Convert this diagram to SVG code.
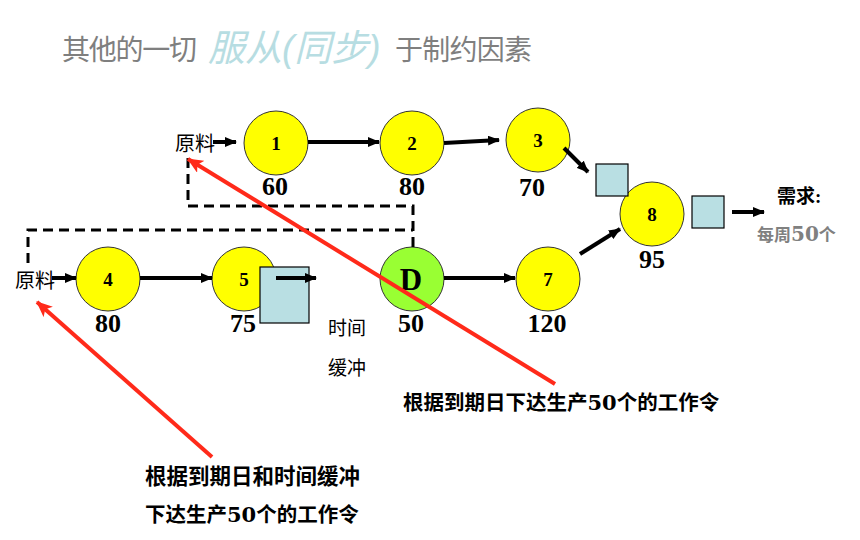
<svg xmlns="http://www.w3.org/2000/svg" width="860" height="540" viewBox="0 0 860 540">
<defs>
<marker id="ah" viewBox="0 0 12 10" refX="11" refY="5" markerWidth="12" markerHeight="10" markerUnits="userSpaceOnUse" orient="auto"><path d="M0,0 L12,5 L0,10 Z" fill="#000"/></marker>
<marker id="rh" viewBox="0 0 16 14" refX="15" refY="7" markerWidth="16" markerHeight="14" markerUnits="userSpaceOnUse" orient="auto"><path d="M0,0 L16,7 L0,14 L4,7 Z" fill="#ff2a1a"/></marker>
<style>
.c{fill:#ffff00;stroke:#333;stroke-width:1}
.g{fill:#99ff33;stroke:#333;stroke-width:1}
.b{fill:#b9dfe3;stroke:#000;stroke-width:1.2}
.n{font-family:"Liberation Serif",serif;font-weight:bold;font-size:19px;text-anchor:middle;fill:#000}
.v{font-family:"Liberation Serif",serif;font-weight:bold;font-size:26px;text-anchor:middle;fill:#000}
.cj{font-family:"Liberation Serif","Noto Sans CJK SC",serif;font-size:20px;fill:#000}
.bd{font-family:"Liberation Serif","Noto Sans CJK SC",serif;font-size:20.5px;font-weight:bold;fill:#000}
.dg{font-family:"DejaVu Serif",serif;font-size:21px}
.t{font-family:"Liberation Sans","Noto Sans CJK SC",sans-serif;font-size:28px;fill:#7f7f7f}
.ti{font-family:"Liberation Sans","Noto Sans CJK SC",sans-serif;font-size:37px;font-style:italic;fill:#b7dde2}
.a{stroke:#000;stroke-width:4;fill:none;marker-end:url(#ah)}
.d{stroke:#000;stroke-width:3;fill:none;stroke-dasharray:10 6}
.r{stroke:#ff2a1a;stroke-width:4;fill:none;marker-end:url(#rh)}
</style>
</defs>
<g id="title">
<text class="t" x="62" y="60" textLength="135">其他的一切</text>
<text class="ti" x="208" y="61">服从(同步)</text>
<text class="t" x="395" y="60" textLength="137">于制约因素</text>
</g>
<g id="n1"><circle class="c" cx="276" cy="143" r="32"/><text class="n" x="276" y="150">1</text><text class="v" x="275" y="195">60</text></g>
<g id="n2"><circle class="c" cx="412" cy="143" r="32"/><text class="n" x="412" y="150">2</text><text class="v" x="412" y="195">80</text></g>
<g id="n3"><circle class="c" cx="538" cy="140" r="32"/><text class="n" x="538" y="147">3</text><text class="v" x="532" y="196">70</text></g>
<g id="n8"><circle class="c" cx="652" cy="214" r="32"/><text class="n" x="652" y="221">8</text><text class="v" x="652" y="268">95</text></g>
<g id="n4"><circle class="c" cx="108" cy="279" r="32"/><text class="n" x="108" y="286">4</text><text class="v" x="108" y="332">80</text></g>
<g id="n5"><circle class="c" cx="244" cy="279" r="32"/><text class="n" x="244" y="286">5</text><text class="v" x="243" y="332">75</text></g>
<g id="nD"><circle class="g" cx="412" cy="279" r="32"/><text class="n" x="411" y="290" style="font-size:31px">D</text><text class="v" x="411" y="332">50</text></g>
<g id="n7"><circle class="c" cx="548" cy="279" r="32"/><text class="n" x="548" y="286">7</text><text class="v" x="547" y="332">120</text></g>
<g id="buf3"><rect class="b" x="596" y="164" width="32" height="32"/></g>
<g id="buf8"><rect class="b" x="692" y="196" width="32" height="32"/></g>
<g id="buf5"><rect class="b" x="260" y="267" width="49" height="56"/></g>
<g id="raw1"><text class="cj" x="175" y="151">原料</text></g>
<g id="raw2"><text class="cj" x="15" y="288">原料</text></g>
<g id="demand"><text class="bd" x="777" y="203" style="font-size:19px">需求:</text><text class="bd" x="757" y="241" style="font-size:17px;fill:#808080">每周<tspan class="dg" style="font-size:20px">50</tspan>个</text></g>
<g id="timebuf"><text class="cj" x="328" y="335" style="font-size:19px">时间</text><text class="cj" x="328" y="375" style="font-size:19px">缓冲</text></g>
<g id="note1"><text class="bd" x="403" y="410">根据到期日下达生产<tspan class="dg">50</tspan>个的工作令</text></g>
<g id="note2"><text class="bd" x="145" y="484" style="font-size:21.5px">根据到期日和时间缓冲</text><text class="bd" x="145" y="522">下达生产<tspan class="dg">50</tspan>个的工作令</text></g>
<g id="connectors">
<line class="a" x1="213" y1="142" x2="236" y2="142"/>
<line class="a" x1="308" y1="142" x2="379" y2="142"/>
<line class="a" x1="444" y1="143" x2="499" y2="140"/>
<line class="a" x1="564" y1="148" x2="588" y2="172"/>
<line class="a" x1="580" y1="254" x2="620" y2="229"/>
<line class="a" x1="732" y1="212" x2="764" y2="212"/>
<line class="a" x1="52" y1="278" x2="76" y2="278"/>
<line class="a" x1="140" y1="278" x2="212" y2="278"/>
<line class="a" x1="276" y1="278" x2="316" y2="278"/>
<line class="a" x1="444" y1="278" x2="515" y2="278"/>
<polyline class="d" points="188,158 188,206 413,206 413,247"/>
<polyline class="d" points="28,263 28,230 413,230"/>
<line class="r" x1="555" y1="384" x2="188" y2="159"/>
<line class="r" x1="212" y1="457" x2="37" y2="302"/>
</g>
</svg>
